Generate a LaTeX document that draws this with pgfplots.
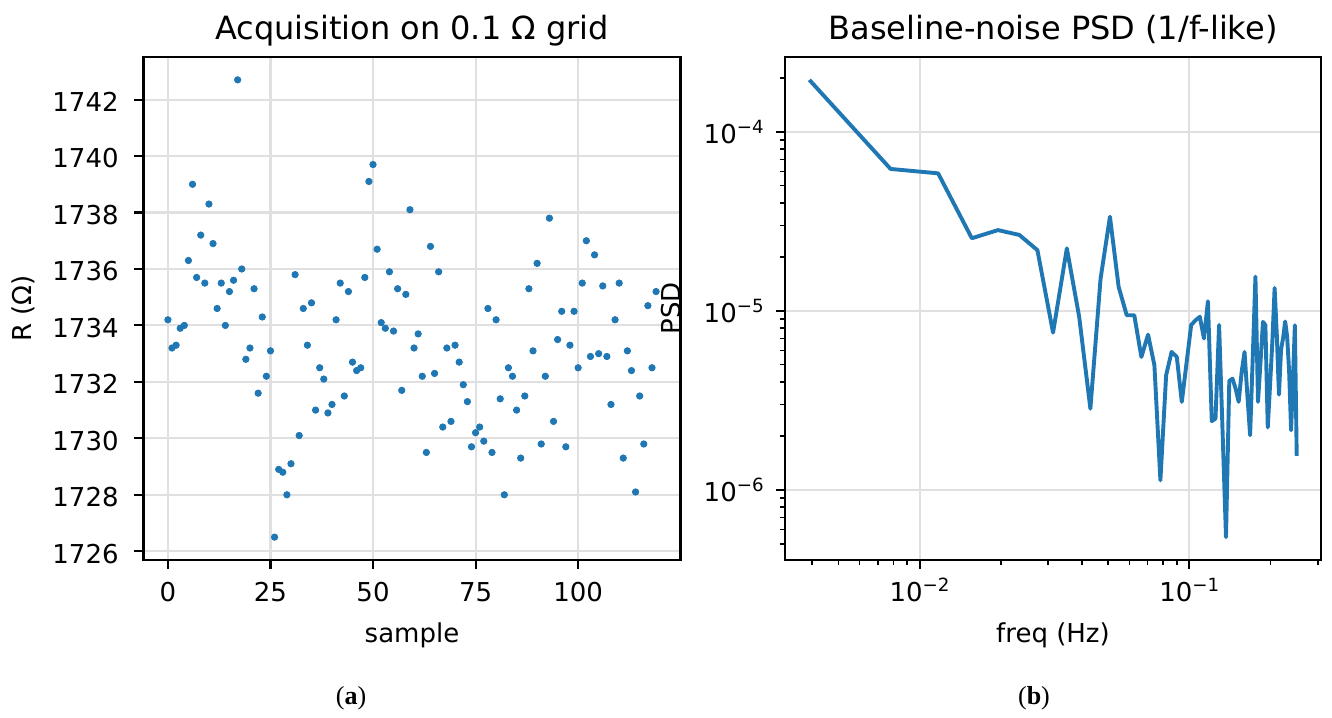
\documentclass[border=0pt]{standalone}
\usepackage{fontspec}
\setmainfont{DejaVu Sans}
\newfontfamily\capfont{Liberation Serif}
\usepackage{pgfplots}
\pgfplotsset{compat=1.18}
\usepackage{pgfplotstable}
\definecolor{mplblue}{HTML}{1F77B4}
\definecolor{gridc}{HTML}{E0E0E0}
\newcommand{\tenpow}[1]{10\raisebox{5pt}{\fontsize{9.1}{10}\selectfont −#1}}

\pgfplotstableread{
s R
0 1734.2
1 1733.2
2 1733.3
3 1733.9
4 1734.0
5 1736.3
6 1739.0
7 1735.7
8 1737.2
9 1735.5
10 1738.3
11 1736.9
12 1734.6
13 1735.5
14 1734.0
15 1735.2
16 1735.6
17 1742.7
18 1736.0
19 1732.8
20 1733.2
21 1735.3
22 1731.6
23 1734.3
24 1732.2
25 1733.1
26 1726.5
27 1728.9
28 1728.8
29 1728.0
30 1729.1
31 1735.8
32 1730.1
33 1734.6
34 1733.3
35 1734.8
36 1731.0
37 1732.5
38 1732.1
39 1730.9
40 1731.2
41 1734.2
42 1735.5
43 1731.5
44 1735.2
45 1732.7
46 1732.4
47 1732.5
48 1735.7
49 1739.1
50 1739.7
51 1736.7
52 1734.1
53 1733.9
54 1735.9
55 1733.8
56 1735.3
57 1731.7
58 1735.1
59 1738.1
60 1733.2
61 1733.7
62 1732.2
63 1729.5
64 1736.8
65 1732.3
66 1735.9
67 1730.4
68 1733.2
69 1730.6
70 1733.3
71 1732.7
72 1731.9
73 1731.3
74 1729.7
75 1730.2
76 1730.4
77 1729.9
78 1734.6
79 1729.5
80 1734.2
81 1731.4
82 1728.0
83 1732.5
84 1732.2
85 1731.0
86 1729.3
87 1731.5
88 1735.3
89 1733.1
90 1736.2
91 1729.8
92 1732.2
93 1737.8
94 1730.6
95 1733.5
96 1734.5
97 1729.7
98 1733.3
99 1734.5
100 1732.5
101 1735.5
102 1737.0
103 1732.9
104 1736.5
105 1733.0
106 1735.4
107 1732.9
108 1731.2
109 1734.2
110 1735.5
111 1729.3
112 1733.1
113 1732.4
114 1728.1
115 1731.5
116 1729.8
117 1734.7
118 1732.5
119 1735.2
}\acqdata

\pgfplotstableread{
f P
0.00390625 1.945e-4
0.0078125 6.19e-5
0.01171875 5.85e-5
0.015625 2.54e-5
0.01953125 2.82e-5
0.0234375 2.65e-5
0.02734375 2.18e-5
0.03125 7.55e-6
0.03515625 2.23e-5
0.0390625 9.25e-6
0.04296875 2.84e-6
0.046875 1.51e-5
0.05078125 3.35e-5
0.0546875 1.36e-5
0.05859375 9.44e-6
0.0625 9.44e-6
0.06640625 5.52e-6
0.0703125 7.36e-6
0.07421875 4.97e-6
0.078125 1.13e-6
0.08203125 4.37e-6
0.0859375 5.89e-6
0.08984375 5.52e-6
0.09375 3.10e-6
0.09765625 5.12e-6
0.1015625 8.32e-6
0.10546875 8.86e-6
0.109375 9.25e-6
0.11328125 7.00e-6
0.1171875 1.13e-5
0.12109375 2.42e-6
0.125 2.50e-6
0.12890625 8.32e-6
0.1328125 2.10e-6
0.13671875 5.45e-7
0.140625 4.06e-6
0.14453125 4.18e-6
0.1484375 3.67e-6
0.15234375 3.10e-6
0.15625 4.55e-6
0.16015625 5.89e-6
0.1640625 3.39e-6
0.16796875 2.02e-6
0.171875 5.6e-6
0.17578125 1.55e-5
0.1796875 3.10e-6
0.18359375 5.18e-6
0.1875 8.67e-6
0.19140625 8.32e-6
0.1953125 2.23e-6
0.19921875 3.86e-6
0.203125 6.79e-6
0.20703125 1.34e-5
0.2109375 7.36e-6
0.21484375 3.40e-6
0.21875 6.08e-6
0.22265625 7.06e-6
0.2265625 8.71e-6
0.23046875 7.15e-6
0.234375 4.55e-6
0.23828125 2.15e-6
0.2421875 4.18e-6
0.24609375 8.30e-6
0.25 1.55e-6
}\psddata

\pgfplotsset{
  mplstyle/.style={
    scale only axis,
    anchor=south west,
    height=251.5pt,
    tick pos=left, tick align=outside,
    major tick length=4.55pt,
    minor tick length=2.6pt,
    major tick style={black, line width=1.04pt},
    minor tick style={black, line width=0.78pt},
    axis line style={black, line width=1.04pt},
    grid=major,
    major grid style={gridc, line width=1.04pt},
    tick label style={font=\fontsize{13}{15}\selectfont},
    xticklabel style={anchor=base, inner sep=0pt, yshift=-16.3pt},
    label style={font=\fontsize{13}{15}\selectfont},
    title style={font=\fontsize{16}{19}\selectfont, at={(axis description cs:0.5,1)}, anchor=base, inner sep=0pt, yshift=2.85pt},
    xlabel style={at={(axis description cs:0.5,0)}, anchor=base, inner sep=0pt, yshift=-41pt},
    /pgf/number format/assume math mode=true,
    /pgf/number format/1000 sep={},
  }
}

\begin{document}
\begin{tikzpicture}
\useasboundingbox (0,0) rectangle (666pt,358.5pt);

\begin{axis}[mplstyle,
  at={(71.75pt,78.5pt)}, width=268.5pt,
  xmin=-5.95, xmax=124.95, ymin=1725.69, ymax=1743.51,
  xtick={0,25,50,75,100},
  ytick={1726,1728,1730,1732,1734,1736,1738,1740,1742},
  yticklabel style={anchor=east, inner sep=0pt, xshift=-7.7pt, yshift=-1.2pt},
  title={Acquisition on 0.1 Ω grid},
  xlabel={sample},
  ylabel={R (Ω)},
  ylabel style={at={(axis description cs:0,0.5)}, anchor=base, inner sep=0pt, yshift=55.75pt},
]
\addplot[only marks, mark=*, mark size=1.6pt, color=mplblue] table[x=s, y=R] {\acqdata};
\end{axis}

\begin{axis}[mplstyle,
  at={(392.5pt,78.5pt)}, width=268pt,
  xmode=log, ymode=log,
  xmin=3.172e-3, xmax=0.3076, ymin=4.058e-7, ymax=2.61e-4,
  xtick={1e-2,1e-1}, xticklabels={\tenpow{2},\tenpow{1}},
  minor xtick={4e-3,5e-3,6e-3,7e-3,8e-3,9e-3,2e-2,3e-2,4e-2,5e-2,6e-2,7e-2,8e-2,9e-2,2e-1,3e-1},
  ytick={1e-6,1e-5,1e-4}, yticklabels={\tenpow{6},\tenpow{5},\tenpow{4}},
  minor ytick={5e-7,6e-7,7e-7,8e-7,9e-7,2e-6,3e-6,4e-6,5e-6,6e-6,7e-6,8e-6,9e-6,2e-5,3e-5,4e-5,5e-5,6e-5,7e-5,8e-5,9e-5,2e-4},
  yticklabel style={anchor=east, inner sep=0pt, xshift=-5.95pt},
  title={Baseline-noise PSD (1/f-like)},
  xlabel={freq (Hz)},
  ylabel={PSD},
  ylabel style={at={(axis description cs:0,0.5)}, anchor=base, inner sep=0pt, yshift=52.5pt},
]
\addplot[no marks, color=mplblue, line width=1.95pt, line join=round] table[x=f, y=P] {\psddata};
\end{axis}

\node[font=\capfont\fontsize{13}{15}\selectfont, anchor=base] at (175.5pt,6.5pt) {(\textbf{a})};
\node[font=\capfont\fontsize{13}{15}\selectfont, anchor=base] at (517pt,6.5pt) {(\textbf{b})};
\end{tikzpicture}
\end{document}
